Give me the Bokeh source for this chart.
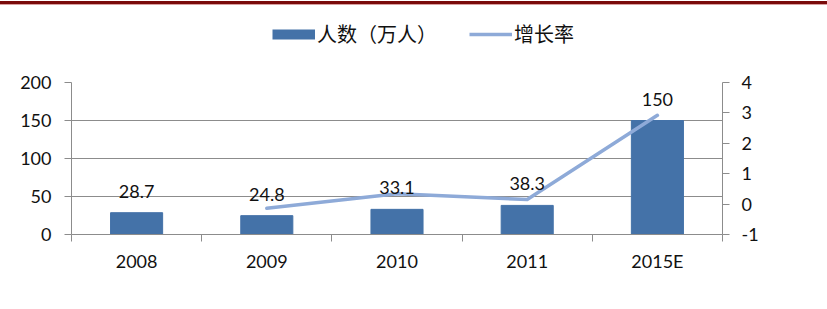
from bokeh.plotting import figure
from bokeh.models import (Range1d, LinearAxis, FixedTicker, Legend, LegendItem,
                          ColumnDataSource, Div)
from bokeh.layouts import column
from bokeh.core.properties import value
from bokeh.embed import file_html
from bokeh.resources import INLINE

categories = ["2008", "2009", "2010", "2011", "2015E"]
people = [28.7, 24.8, 33.1, 38.3, 150]
rate_categories = ["2009", "2010", "2011", "2015E"]
growth = [-0.14, 0.34, 0.15, 2.92]
left_ticks = [0, 50, 100, 150, 200]
right_ticks = [-1, 0, 1, 2, 3, 4]
series_names = ["人数（万人）", "增长率"]

FONT = "Lato"
GRID = "#8c8c8c"
BAR = "#4472a8"
LINE = "#8eaad8"

xpos = {c: i + 0.5 for i, c in enumerate(categories)}
bar_src = ColumnDataSource(dict(x=[xpos[c] for c in categories], y=people,
                                label=[f"{v:g}" for v in people]))
line_src = ColumnDataSource(dict(x=[xpos[c] for c in rate_categories], y=growth))

# ---------- legend strip (its ranges keep the swatch renderers off-view) ----------
lf = figure(width=827, height=55, output_backend="svg", toolbar_location=None,
            x_range=Range1d(-20, -19), y_range=Range1d(-20, -19),
            min_border_left=0, min_border_right=0, min_border_top=0,
            min_border_bottom=0)
lf.axis.visible = False
lf.grid.visible = False
lf.outline_line_color = None
sw_bar = lf.line(x="x", y="y", source=bar_src, line_color=BAR, line_width=10,
                 line_cap="butt")
sw_line = lf.line(x="x", y="y", source=line_src, line_color=LINE, line_width=3.5)
leg = Legend(items=[LegendItem(label=series_names[0], renderers=[sw_bar]),
                    LegendItem(label=series_names[1], renderers=[sw_line])],
             location=(201, 12), orientation="horizontal",
             glyph_width=43, glyph_height=14, label_standoff=2, spacing=32,
             label_text_font="Noto Sans CJK SC", label_text_font_size="20px",
             label_text_color="#111111", padding=0, margin=0,
             border_line_color=None, background_fill_alpha=0)
lf.add_layout(leg)

# ---------- main chart ----------
p = figure(width=827, height=249, output_backend="svg", toolbar_location=None,
           x_range=Range1d(0, len(categories)), y_range=Range1d(0, 200),
           min_border_left=71, min_border_right=105, min_border_top=22,
           min_border_bottom=75)
p.outline_line_color = None
p.extra_y_ranges = {"rate": Range1d(-1, 4)}

p.vbar(x="x", top="y", width=0.4, source=bar_src, fill_color=BAR, line_color=BAR)
p.line(x="x", y="y", source=line_src, y_range_name="rate", line_color=LINE,
       line_width=3.5, line_cap="round", line_join="round")
p.text(x="x", y="y", text="label", source=bar_src, y_offset=-15,
       text_align="center", text_baseline="bottom", text_font=value(FONT),
       text_font_size="18px", text_color="#111111")

xa = p.xaxis[0]
xa.ticker = FixedTicker(ticks=[xpos[c] for c in categories],
                        minor_ticks=list(range(len(categories) + 1)))
xa.major_label_overrides = {xpos[c]: c for c in categories}
xa.major_tick_line_color = None
xa.minor_tick_in = 0
xa.minor_tick_out = 7
xa.minor_tick_line_color = GRID
xa.axis_line_color = GRID
xa.major_label_standoff = 8
xa.major_label_text_font = FONT
xa.major_label_text_font_size = "18px"
xa.major_label_text_color = "#111111"

ya = p.yaxis[0]
ya.ticker = FixedTicker(ticks=left_ticks, minor_ticks=[])
ya.axis_line_color = GRID
ya.major_tick_line_color = GRID
ya.major_tick_in = 0
ya.major_tick_out = 7
ya.major_label_standoff = 13
ya.major_label_text_font = FONT
ya.major_label_text_font_size = "18px"
ya.major_label_text_color = "#111111"

ra = LinearAxis(y_range_name="rate", ticker=FixedTicker(ticks=right_ticks, minor_ticks=[]))
ra.major_label_overrides = {t: str(t) for t in right_ticks}
ra.axis_line_color = GRID
ra.major_tick_line_color = GRID
ra.major_tick_in = 0
ra.major_tick_out = 7
ra.minor_tick_line_color = None
ra.major_label_standoff = 12
ra.major_label_text_font = FONT
ra.major_label_text_font_size = "18px"
ra.major_label_text_color = "#111111"
p.add_layout(ra, "right")

p.xgrid.grid_line_color = None
p.ygrid.ticker = FixedTicker(ticks=left_ticks)
p.ygrid.grid_line_color = GRID

stripe = Div(width=827, height=5, margin=(0, 0, 0, 0), styles={
    "background": "linear-gradient(#ffffff 0px, #ffffff 1px, #7a0a0a 1px, #7a0a0a 4px, #d8a0a0 4px, #d8a0a0 5px)"})

layout = column(stripe, lf, p, spacing=0)
open("out.html", "w").write(file_html(layout, INLINE))
